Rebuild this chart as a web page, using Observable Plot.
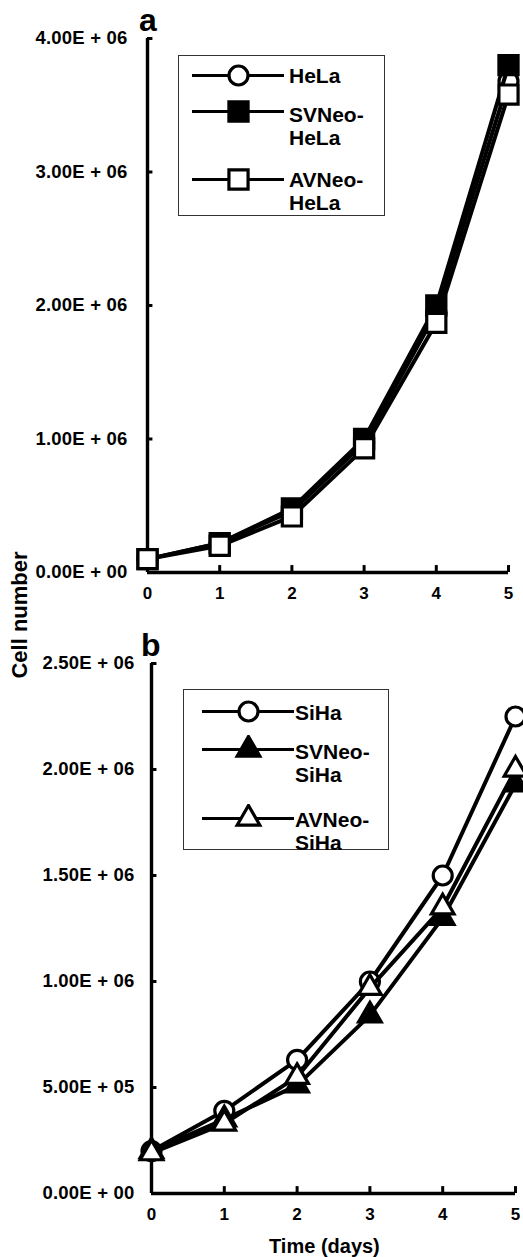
<!DOCTYPE html>
<html>
<head>
<meta charset="utf-8">
<script src="https://cdn.jsdelivr.net/npm/d3@7"></script>
<script src="https://cdn.jsdelivr.net/npm/@observablehq/plot@0.6"></script>
<style>
  html, body { margin: 0; padding: 0; background: #fff; }
  #root { position: relative; width: 523px; height: 1257px; overflow: hidden; font-family: "Liberation Sans", Arial, sans-serif; color: #000; }
  .panel { position: absolute; left: 0; }
  .panel svg { display: block; font-family: "Liberation Sans", Arial, sans-serif; }
  .panel g[aria-label="y-axis tick label"] { font-size: 18.5px; font-weight: bold; letter-spacing: 0.2px; }
  .panel g[aria-label="x-axis tick label"] { font-size: 17px; font-weight: bold; }
  .lbl { position: absolute; font-weight: bold; line-height: 1; white-space: nowrap; }
  .legend { position: absolute; border: 1.3px solid #333; box-sizing: border-box; background: #fff; }
  .legend .sym { position: absolute; }
  .legend .txt { position: absolute; font-size: 21px; font-weight: bold; line-height: 23px; }
</style>
</head>
<body>
<div id="root"></div>
<script>
// ---- data ----
const days = [0, 1, 2, 3, 4, 5];

// panel a
const helaA   = [1.0e5, 2.2e5, 4.6e5, 9.7e5, 1.95e6, 3.68e6];
const svNeoA  = [1.0e5, 2.2e5, 4.8e5, 1.0e6, 2.0e6, 3.8e6];
const avNeoA  = [1.0e5, 2.0e5, 4.2e5, 9.3e5, 1.87e6, 3.58e6];
const yTicksA = [0, 1e6, 2e6, 3e6, 4e6];
const seriesNamesA = ["HeLa", "SVNeo-HeLa", "AVNeo-HeLa"];

// panel b
const siha    = [2.0e5, 3.9e5, 6.3e5, 1.0e6, 1.5e6, 2.25e6];
const svNeoB  = [2.0e5, 3.5e5, 5.1e5, 8.4e5, 1.3e6, 1.93e6];
const avNeoB  = [1.9e5, 3.3e5, 5.5e5, 9.7e5, 1.35e6, 2.0e6];
const yTicksB = [0, 5e5, 1e6, 1.5e6, 2e6, 2.5e6];
const seriesNamesB = ["SiHa", "SVNeo-SiHa", "AVNeo-SiHa"];

// ---- helpers ----
const rows = (vals) => days.map((d, i) => ({day: d, cells: vals[i]}));
const fmt = (v) => {
  const e = v === 0 ? 0 : Math.floor(Math.log10(v) + 1e-9);
  const m = v / Math.pow(10, e);
  return `${m.toFixed(2)}E + ${String(e).padStart(2, "0")}`;
};

const markStyles = {
  circle:   {symbol: "circle",   r: 9.5, fill: "white"},
  squareF:  {symbol: "square",   r: 10.8, fill: "black"},
  squareO:  {symbol: "square",   r: 10.8, fill: "white"},
  triF:     {symbol: "triangle", r: 8.4, fill: "black"},
  triO:     {symbol: "triangle", r: 8.4, fill: "white"}
};

function seriesMarks(vals, style) {
  const data = rows(vals);
  return [
    Plot.line(data, {x: "day", y: "cells", stroke: "black", strokeWidth: 4}),
    Plot.dot(data, {x: "day", y: "cells", stroke: "black", strokeWidth: 3.2, ...markStyles[style]})
  ];
}

function panel({ymax, yTicks, series, width, height, marginLeft, marginRight, marginTop, marginBottom, tickPadY}) {
  return Plot.plot({
    width, height, marginLeft, marginRight, marginTop, marginBottom,
    x: {domain: [0, 5]},
    y: {domain: [0, ymax]},
    marks: [
      Plot.axisY(yTicks, {tickSize: 0, tickPadding: tickPadY, tickFormat: fmt, label: null}),
      Plot.axisX(days, {tickSize: 0, tickPadding: 14, tickFormat: d => String(d), label: null}),
      // axis lines
      Plot.ruleX([0], {y1: 0, y2: ymax, stroke: "black", strokeWidth: 3.4}),
      Plot.ruleY([0], {x1: 0, x2: 5, stroke: "black", strokeWidth: 3.4}),
      // inward ticks
      Plot.ruleY(yTicks, {x1: 0, x2: 0.075, stroke: "black", strokeWidth: 3}),
      Plot.ruleX(days, {y1: 0, y2: ymax * 0.013, stroke: "black", strokeWidth: 3}),
      ...series.flatMap(([vals, style]) => seriesMarks(vals, style))
    ]
  });
}

const root = document.getElementById("root");

// panel a
const divA = document.createElement("div");
divA.className = "panel"; divA.style.top = "0px";
divA.append(panel({
  ymax: 4e6, yTicks: yTicksA, width: 523, height: 615,
  marginLeft: 147, marginRight: 15, marginTop: 38, marginBottom: 43, tickPadY: 20,
  series: [[helaA, "circle"], [svNeoA, "squareF"], [avNeoA, "squareO"]]
}));
root.append(divA);

// panel b
const divB = document.createElement("div");
divB.className = "panel"; divB.style.top = "615px";
divB.append(panel({
  ymax: 2.5e6, yTicks: yTicksB, width: 523, height: 642,
  marginLeft: 151, marginRight: 8, marginTop: 48, marginBottom: 64, tickPadY: 17,
  series: [[siha, "circle"], [svNeoB, "triF"], [avNeoB, "triO"]]
}));
root.append(divB);

// labels
function label(text, css) {
  const d = document.createElement("div");
  d.className = "lbl"; d.textContent = text;
  Object.assign(d.style, css);
  root.append(d);
  return d;
}
label("a", {left: "139px", top: "4px", fontSize: "32px"});
label("b", {left: "141px", top: "629px", fontSize: "32px"});
label("Time (days)", {left: "269px", top: "1236px", fontSize: "20px"});
const cn = label("Cell number", {left: "0px", top: "0px", fontSize: "22px"});
const w = cn.offsetWidth, h = cn.offsetHeight;
cn.style.transformOrigin = "center center";
cn.style.left = (19 - w / 2) + "px";
cn.style.top = (615 - h / 2) + "px";
cn.style.transform = "rotate(-90deg)";

// legends
function symbolSVG(style) {
  const s = markStyles[style];
  const data = [{x: 0, y: 0}];
  return Plot.plot({
    width: 92, height: 28, margin: 0,
    x: {domain: [-1, 1], axis: null}, y: {domain: [-1, 1], axis: null},
    marks: [
      Plot.ruleY([0], {x1: -1, x2: 1, stroke: "black", strokeWidth: 3}),
      Plot.dot(data, {x: "x", y: "y", stroke: "black", strokeWidth: 3.2, ...s})
    ]
  });
}
function legend(box, entries) {
  const d = document.createElement("div");
  d.className = "legend";
  Object.assign(d.style, {left: box.left + "px", top: box.top + "px", width: box.width + "px", height: box.height + "px"});
  entries.forEach(e => {
    const s = document.createElement("div");
    s.className = "sym";
    s.style.left = e.sx + "px"; s.style.top = (e.sy - 14) + "px";
    s.append(symbolSVG(e.style));
    d.append(s);
    const t = document.createElement("div");
    t.className = "txt";
    t.style.left = e.tx + "px"; t.style.top = (e.ty - 11.5) + "px";
    t.innerHTML = e.text.replace("-", "-<br>");
    d.append(t);
  });
  root.append(d);
}
legend({left: 178, top: 55, width: 207, height: 161}, [
  {style: "circle",  text: seriesNamesA[0], sx: 13, sy: 19, tx: 110, ty: 19},
  {style: "squareF", text: seriesNamesA[1], sx: 13, sy: 55, tx: 110, ty: 58},
  {style: "squareO", text: seriesNamesA[2], sx: 13, sy: 123, tx: 110, ty: 123}
]);
legend({left: 183, top: 689, width: 206, height: 161}, [
  {style: "circle", text: seriesNamesB[0], sx: 18, sy: 21, tx: 111, ty: 22},
  {style: "triF",   text: seriesNamesB[1], sx: 18, sy: 59, tx: 111, ty: 61},
  {style: "triO",   text: seriesNamesB[2], sx: 18, sy: 128, tx: 111, ty: 129}
]);
</script>
</body>
</html>
